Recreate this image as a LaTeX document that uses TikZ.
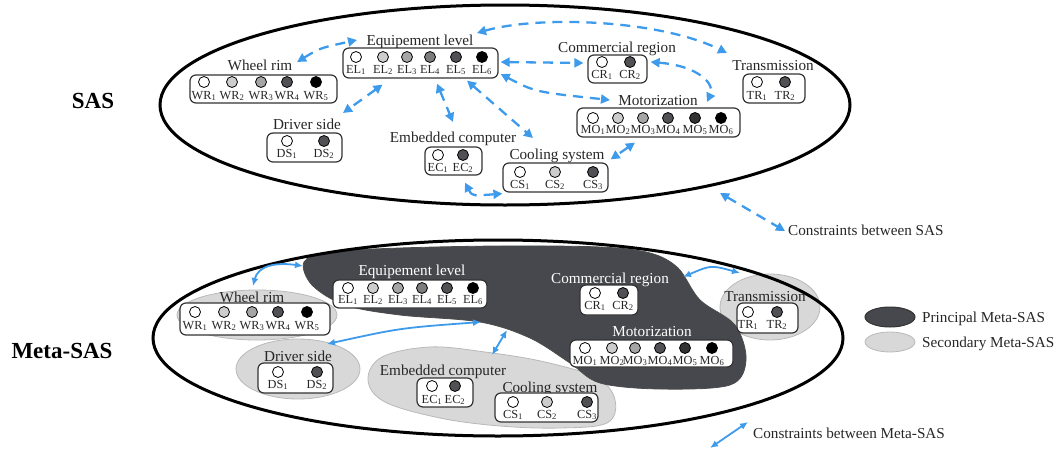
\documentclass[tikz,border=0pt]{standalone}
\usepackage{fontspec}
\setmainfont{Liberation Serif}
\usetikzlibrary{arrows.meta,calc,shapes.geometric}
\definecolor{cblue}{RGB}{62,155,235}
\definecolor{cdark}{RGB}{70,72,77}
\definecolor{clight}{RGB}{216,216,216}
\definecolor{cline}{RGB}{185,185,185}
\definecolor{g1}{RGB}{205,205,205}
\definecolor{g2}{RGB}{165,165,165}
\definecolor{g3}{RGB}{125,125,125}
\definecolor{g4}{RGB}{80,80,85}
\definecolor{g5}{RGB}{50,50,50}
\tikzset{
 grp/.style={font=\fontsize{15.2}{17}\selectfont, inner sep=0pt, anchor=base, text=black!85},
 itm/.style={font=\fontsize{12.3}{13}\selectfont, inner sep=0pt, anchor=base, text=black!85},
 dot/.style={circle, draw=black, line width=0.8pt, minimum size=11pt, inner sep=0pt},
 box/.style={draw=black!80, line width=1.2pt, rounded corners=6pt, fill=white, inner sep=0pt},
 dasharrow/.style={cblue, line width=2.3pt, dash pattern=on 10pt off 7pt, {Triangle[length=9pt,width=9pt]}-{Triangle[length=9pt,width=9pt]}},
 solidarrow/.style={cblue, line width=1.8pt, {Latex[length=8pt,width=7pt]}-{Latex[length=8pt,width=7pt]}},
 big/.style={line width=3pt},
 secblob/.style={fill=clight, draw=cline, line width=0.8pt},
}
\begin{document}
\begin{tikzpicture}[x=1pt,y=-1pt]
\useasboundingbox (0,0) rectangle (1058,450);

% ---------- side titles
\node[font=\bfseries\fontsize{23}{26}\selectfont, inner sep=0pt, anchor=base] (sas) at (93,108) {SAS};
\node[font=\bfseries\fontsize{23}{26}\selectfont, inner sep=0pt, anchor=base] (metasas) at (62,358) {Meta-SAS};

% ================= TOP (SAS) =================
\draw[big] (505,105) ellipse [x radius=345, y radius=100];

% Equipement level
\node[grp] (tELt) at (420,45) {Equipement level};
\node[box, minimum width=155pt, minimum height=30pt] (tELbox) at (420.5,63) {};
\foreach \x/\c [count=\i] in {356/white,383/g1,407/g2,430/g3,456/g4,482/black}{
  \node[dot,fill=\c] (tEL\i) at (\x,57) {};
  \node[itm] (tELl\i) at (\x,73) {EL\textsubscript{\i}};}

% Wheel rim
\node[grp] (tWRt) at (260,70) {Wheel rim};
\node[box, minimum width=147pt, minimum height=28pt] (tWRbox) at (263.5,89) {};
\foreach \x/\c [count=\i] in {204/white,232/g1,261/g2,287/g4,316/black}{
  \node[dot,fill=\c] (tWR\i) at (\x,82) {};
  \node[itm] (tWRl\i) at (\x,99) {WR\textsubscript{\i}};}

% Driver side
\node[grp] (tDSt) at (307,129) {Driver side};
\node[box, minimum width=75pt, minimum height=29pt] (tDSbox) at (304.5,147.5) {};
\foreach \x/\c [count=\i] in {287/white,324/g4}{
  \node[dot,fill=\c] (tDS\i) at (\x,141) {};
  \node[itm] (tDSl\i) at (\x,157) {DS\textsubscript{\i}};}

% Embedded computer
\node[grp] (tECt) at (453,142) {Embedded computer};
\node[box, minimum width=57pt, minimum height=28pt] (tECbox) at (453.5,161) {};
\foreach \x/\c [count=\i] in {438/white,463/g4}{
  \node[dot,fill=\c] (tEC\i) at (\x,155) {};
  \node[itm] (tECl\i) at (\x,171) {EC\textsubscript{\i}};}

% Cooling system
\node[grp] (tCSt) at (557,159) {Cooling system};
\node[box, minimum width=105pt, minimum height=29pt] (tCSbox) at (555.5,177.5) {};
\foreach \x/\c [count=\i] in {520/white,555/g1,593/g4}{
  \node[dot,fill=\c] (tCS\i) at (\x,172) {};
  \node[itm] (tCSl\i) at (\x,188) {CS\textsubscript{\i}};}

% Commercial region
\node[grp] (tCRt) at (617,52) {Commercial region};
\node[box, minimum width=59pt, minimum height=28pt] (tCRbox) at (617.5,69) {};
\foreach \x/\c [count=\i] in {602/white,630/g4}{
  \node[dot,fill=\c] (tCR\i) at (\x,62) {};
  \node[itm] (tCRl\i) at (\x,78) {CR\textsubscript{\i}};}

% Transmission
\node[grp] (tTRt) at (773,70) {Transmission};
\node[box, minimum width=62pt, minimum height=29pt] (tTRbox) at (774,88.5) {};
\foreach \x/\c [count=\i] in {757/white,785/g4}{
  \node[dot,fill=\c] (tTR\i) at (\x,82) {};
  \node[itm] (tTRl\i) at (\x,99) {TR\textsubscript{\i}};}

% Motorization
\node[grp] (tMOt) at (658,105) {Motorization};
\node[box, minimum width=163pt, minimum height=29pt] (tMObox) at (658.5,122.5) {};
\foreach \x/\c [count=\i] in {593/white,618/g1,643/g2,668/g4,695/g5,721/black}{
  \node[dot,fill=\c] (tMO\i) at (\x,118) {};
  \node[itm] (tMOl\i) at (\x,133) {MO\textsubscript{\i}};}

% top constraints
\draw[dasharrow] ([shift={(37,-8)}]tWRt.base) .. controls (320,48) .. ([shift={(-63,-5)}]tELt.base);
\draw[dasharrow] ([shift={(-38,6)}]tELbox.south) -- ([shift={(36,-16)}]tDSt.base);
\draw[dasharrow] ([shift={(16.5,5)}]tELbox.south) -- ([shift={(0,-20)}]tECt.base);
\draw[dasharrow] ([shift={(46.5,2)}]tELbox.south) -- ([shift={(-24,-21)}]tCSt.base);
\draw[dasharrow] ([shift={(2,-1)}]tELbox.east) -- ([shift={(-4,-6)}]tCRbox.west);
\draw[dasharrow] ([shift={(2,11)}]tELbox.east) .. controls (535,92) .. ([shift={(-48,-5)}]tMOt.base);
\draw[dasharrow] ([shift={(57,-12)}]tELt.base) .. controls (540,15) and (660,20) .. ([shift={(-46,-17)}]tTRt.base);
\draw[dasharrow] ([shift={(3,-7)}]tCRbox.east) .. controls (700,66) and (715,85) .. ([shift={(49,-3)}]tMOt.base);
\draw[dasharrow] ([shift={(-23.5,5)}]tMObox.south) -- ([shift={(2,-3)}]tCSbox.north east);
\draw[dasharrow] ([shift={(11.5,7)}]tECbox.south) .. controls (472,196) .. ([shift={(0,1)}]tCSbox.south west);

% legend SAS
\node[grp, anchor=base west] (legSAS) at (788,235) {Constraints between SAS};
\coordinate (legSASa) at (720,193);
\draw[dasharrow] (legSASa) -- ([shift={(-3,-4)}]legSAS.base west);

% ================= BOTTOM (Meta-SAS) =================
% secondary blobs
\node[ellipse, secblob, minimum width=160pt, minimum height=50pt] (sWR) at (257,315) {};
\node[ellipse, secblob, minimum width=124pt, minimum height=60pt] (sDS) at (298,369) {};
\node[ellipse, secblob, minimum width=100pt, minimum height=66pt] (sTR) at (770,307) {};
\draw[secblob] plot[smooth cycle, tension=0.6] coordinates {(368,380) (382,357) (430,347) (485,352) (545,362) (597,378) (615,400) (607,423) (560,428) (500,426) (440,418) (385,402)};
% principal blob
\draw[fill=cdark, draw=black!70, line width=0.8pt] plot[smooth cycle, tension=0.55] coordinates {(304,262) (330,252) (400,248) (500,246) (600,247) (650,253) (678,268) (700,300) (735,325) (746,360) (730,385) (660,389) (600,383) (570,363) (530,338) (480,322) (400,315) (345,305) (312,285)};

\draw[big] (498,338) ellipse [x radius=345, y radius=98];

% Equipement level
\node[grp, text=white] (bELt) at (412,275) {Equipement level};
\node[box, minimum width=154pt, minimum height=28pt] (bELbox) at (410,294) {};
\foreach \x/\c [count=\i] in {348/white,373/g1,398/g2,422/g3,447/g4,473/black}{
  \node[dot,fill=\c] (bEL\i) at (\x,288) {};
  \node[itm] (bELl\i) at (\x,303) {EL\textsubscript{\i}};}

% Wheel rim
\node[grp] (bWRt) at (252,302) {Wheel rim};
\node[box, minimum width=150pt, minimum height=32pt] (bWRbox) at (255,319) {};
\foreach \x/\c [count=\i] in {195/white,224/g1,252/g2,278/g4,307/black}{
  \node[dot,fill=\c] (bWR\i) at (\x,312) {};
  \node[itm] (bWRl\i) at (\x,329) {WR\textsubscript{\i}};}

% Driver side
\node[grp] (bDSt) at (298,361) {Driver side};
\node[box, minimum width=75pt, minimum height=30pt] (bDSbox) at (295.5,378) {};
\foreach \x/\c [count=\i] in {278/white,317/g4}{
  \node[dot,fill=\c] (bDS\i) at (\x,372) {};
  \node[itm] (bDSl\i) at (\x,388) {DS\textsubscript{\i}};}

% Embedded computer
\node[grp] (bECt) at (443,375) {Embedded computer};
\node[box, minimum width=56pt, minimum height=29pt] (bECbox) at (445,392.5) {};
\foreach \x/\c [count=\i] in {432/white,455/g4}{
  \node[dot,fill=\c] (bEC\i) at (\x,386) {};
  \node[itm] (bECl\i) at (\x,403) {EC\textsubscript{\i}};}

% Cooling system
\node[grp] (bCSt) at (550,392) {Cooling system};
\node[box, minimum width=103pt, minimum height=29pt] (bCSbox) at (546.5,407.5) {};
\foreach \x/\c [count=\i] in {513/white,547/g1,587/g4}{
  \node[dot,fill=\c] (bCS\i) at (\x,402) {};
  \node[itm] (bCSl\i) at (\x,418) {CS\textsubscript{\i}};}

% Commercial region
\node[grp, text=white] (bCRt) at (610,283) {Commercial region};
\node[box, minimum width=58pt, minimum height=30pt] (bCRbox) at (609,300) {};
\foreach \x/\c [count=\i] in {595/white,623/g4}{
  \node[dot,fill=\c] (bCR\i) at (\x,293) {};
  \node[itm] (bCRl\i) at (\x,309) {CR\textsubscript{\i}};}

% Motorization
\node[grp, text=white] (bMOt) at (652,336) {Motorization};
\node[box, minimum width=163pt, minimum height=27pt] (bMObox) at (651.5,353.5) {};
\foreach \x/\c [count=\i] in {585/white,612/g1,635/g2,660/g4,685/g5,712/black}{
  \node[dot,fill=\c] (bMO\i) at (\x,348) {};
  \node[itm] (bMOl\i) at (\x,364) {MO\textsubscript{\i}};}

% Transmission
\node[grp] (bTRt) at (765,301) {Transmission};
\node[box, minimum width=61pt, minimum height=30pt] (bTRbox) at (767.5,318) {};
\foreach \x/\c [count=\i] in {748/white,777/g4}{
  \node[dot,fill=\c] (bTR\i) at (\x,312) {};
  \node[itm] (bTRl\i) at (\x,328) {TR\textsubscript{\i}};}

% bottom constraints
\draw[solidarrow] ([shift={(1,-16)}]bWRt.base) .. controls (258,266) and (275,262) .. ([shift={(-109,-9)}]bELt.base);
\draw[solidarrow] ([shift={(29,-17)}]bDSt.base) .. controls (400,328) .. ([shift={(69,47)}]bELt.base);
\draw[solidarrow] ([shift={(95,55)}]bELt.base) -- ([shift={(49,-20)}]bECt.base);
\draw[solidarrow] ([shift={(73,-6)}]bCRt.base) .. controls (711,265) .. ([shift={(-25,-28)}]bTRt.base);

% legend Meta-SAS
\node[ellipse, fill=cdark, draw=black!80, line width=1pt, minimum width=50pt, minimum height=20pt] (legP) at (890,317) {};
\node[grp, anchor=base west] (legPt) at (922,322) {Principal Meta-SAS};
\node[ellipse, secblob, minimum width=50pt, minimum height=20pt] (legS) at (890,342) {};
\node[grp, anchor=base west] (legSt) at (922,347) {Secondary Meta-SAS};
\node[grp, anchor=base west] (legMeta) at (753,438) {Constraints between Meta-SAS};
\coordinate (legMa) at (710,448);
\draw[solidarrow] (legMa) -- ([shift={(-5,-16)}]legMeta.base west);
\end{tikzpicture}
\end{document}
